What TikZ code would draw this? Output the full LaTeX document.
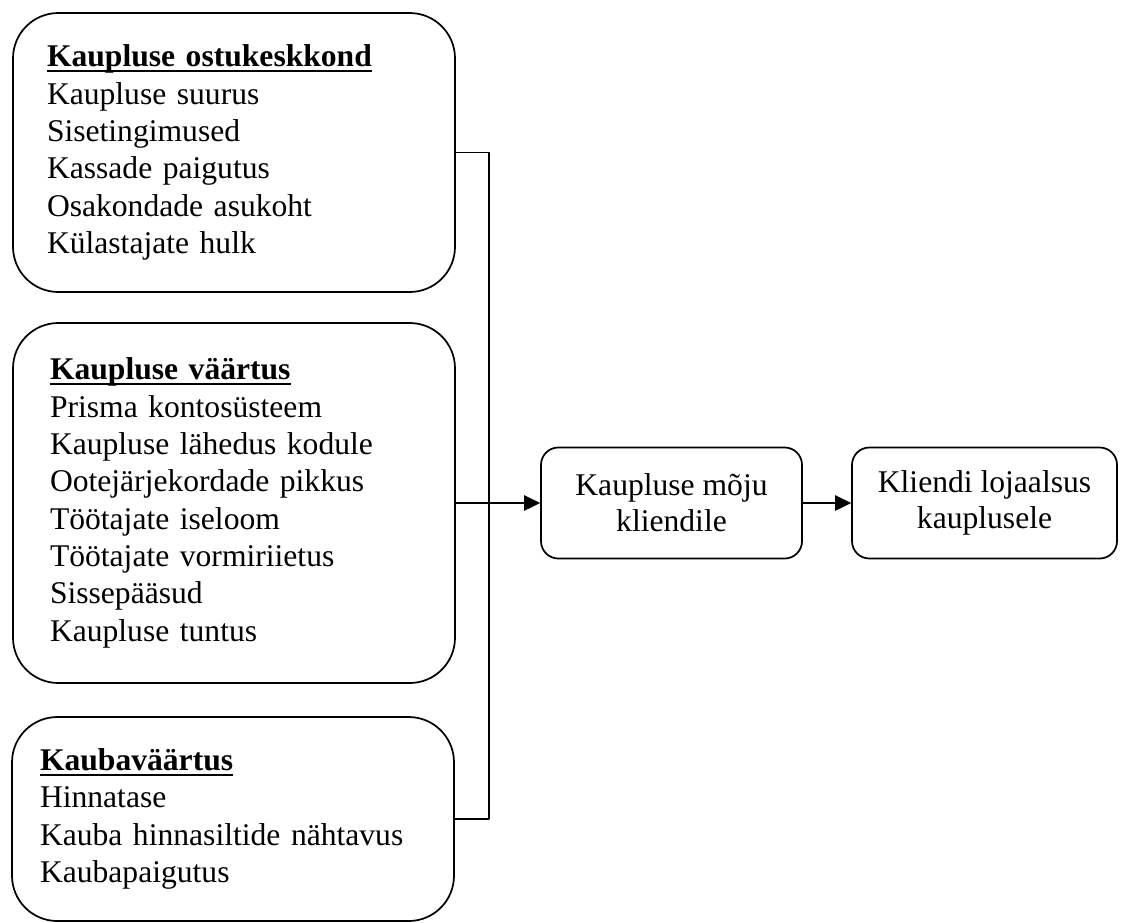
\documentclass[tikz,border=0pt]{standalone}
\usepackage{fontspec}
\setmainfont{Liberation Serif}
\usetikzlibrary{arrows.meta}
\newcommand{\hd}[1]{\sbox0{\textbf{#1}}\usebox0\llap{\rule[-4pt]{\wd0}{1.8pt}}}
\tikzset{fig/.style={line join=round,>={Triangle[length=12pt,width=11.5pt]},line width=1.3pt},
  grp/.style={draw,rounded corners=34pt,minimum width=331.5pt,align=left,font=\fontsize{23.7}{28}\selectfont},
  res/.style={draw,rounded corners=13pt,minimum height=83.25pt,align=center,font=\fontsize{23.7}{27}\selectfont}}

\begin{document}
\begin{tikzpicture}[fig,x=0.75pt,y=-0.75pt]
  \useasboundingbox(0,0)rectangle(1126,922);
  \node[grp,minimum height=209.25pt,inner xsep=25.5pt,text width=280.5pt](env)at(234,152.5){\hd{Kaupluse ostukeskkond}\\Kaupluse suurus\\Sisetingimused\\Kassade paigutus\\Osakondade asukoht\\Külastajate hulk};
  \node[grp,minimum height=270pt,inner xsep=27.75pt,text width=276pt](val)at(234,503){\hd{Kaupluse väärtus}\\Prisma kontosüsteem\\Kaupluse lähedus kodule\\Ootejärjekordade pikkus\\Töötajate iseloom\\Töötajate vormiriietus\\Sissepääsud\\Kaupluse tuntus};
  \node[grp,minimum height=153pt,inner xsep=21pt,text width=289.5pt](goods)at(233,819){\hd{Kaubaväärtus}\\Hinnatase\\Kauba hinnasiltide nähtavus\\Kaubapaigutus};
  \node[res,minimum width=195.75pt](impact)at(671.5,503){Kaupluse mõju\\kliendile};
  \node[res,minimum width=198.75pt](loyal)at(984.5,503){Kliendi lojaalsus\\kauplusele};
  \coordinate(bus)at(489,0);
  \draw(env.east)--(env.east-|bus)--(goods.east-|bus)--(goods.east);
  \draw[->](val.east)--(impact.west);
  \draw[->](impact)--(loyal);
\end{tikzpicture}
\end{document}
